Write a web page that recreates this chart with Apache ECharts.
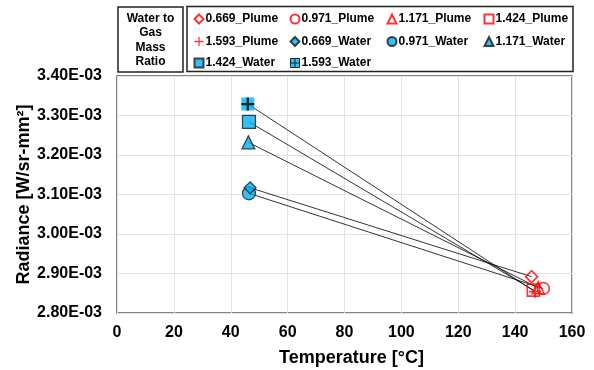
<!DOCTYPE html>
<html><head><meta charset="utf-8">
<script src="https://cdn.jsdelivr.net/npm/echarts@6/dist/echarts.min.js"></script>
<style>html,body{margin:0;padding:0;background:#fff}#c{width:594px;height:370px}</style>
</head><body><div id="c"></div>
<script>
const ratios = ['0.669', '0.971', '1.171', '1.424', '1.593'];
const waterTemp = [46.8, 46.4, 46.2, 46.4, 46.0];
const waterRad = [3.117e-3, 3.103e-3, 3.232e-3, 3.284e-3, 3.329e-3];
const plumeTemp = [145.8, 149.9, 148.1, 146.4, 147.0];
const plumeRad = [2.892e-3, 2.862e-3, 2.864e-3, 2.858e-3, 2.854e-3];
const xTicks = { min: 0, max: 160, interval: 20 };
const yTicks = { min: 0.0028, max: 0.0034, interval: 0.0001 };

const BLUE = '#00B0F0', RED = '#FF0000';
const crossThin = 'path://M4.3,0H5.7V4.3H10V5.7H5.7V10H4.3V5.7H0V4.3H4.3Z';
const crossThick = 'path://M4.1,0H5.9V4.1H10V5.9H5.9V10H4.1V5.9H0V4.1H4.1Z';
const plumeSym = ['diamond', 'circle', 'triangle', 'rect', crossThin];
const waterSym = ['diamond', 'circle', 'triangle', 'rect', 'rect'];

const series = [];
ratios.forEach((r, i) => {
  series.push({
    type: 'line', name: '_line' + i, silent: true, showSymbol: false, symbol: 'none', z: 1,
    lineStyle: { color: '#000', width: 0.8 },
    data: [[waterTemp[i], waterRad[i]], [plumeTemp[i], plumeRad[i]]]
  });
});
ratios.forEach((r, i) => {
  const isCross = i === 4;
  series.push({
    type: 'scatter', name: r + '_Plume', z: 3,
    symbol: plumeSym[i], symbolSize: 12,
    itemStyle: isCross ? { color: RED, borderWidth: 0 } : { color: 'none', borderColor: RED, borderWidth: 1.6 },
    data: [[plumeTemp[i], plumeRad[i]]]
  });
});
ratios.forEach((r, i) => {
  series.push({
    type: 'scatter', name: r + '_Water', z: i === 0 ? 5 : 4,
    symbol: waterSym[i], symbolSize: i === 0 ? 12 : 13,
    itemStyle: i === 4 ? { color: BLUE, borderWidth: 0 } : { color: BLUE, borderColor: '#1a1a1a', borderWidth: 1.2 },
    data: [[waterTemp[i], waterRad[i]]]
  });
});
series.push({
  type: 'scatter', name: '_cross', z: 6, silent: true,
  symbol: crossThick, symbolSize: 13,
  itemStyle: { color: '#000' },
  data: [[waterTemp[4], waterRad[4]]]
});

const legendItem = (name) => {
  if (name === '1.593_Water') {
    return { name, icon: 'path://M0,0H10V10H0Z M5,0V10 M0,5H10', itemStyle: { color: BLUE, borderColor: '#000', borderWidth: 1 } };
  }
  return { name };
};
const cols = [
  ['0.669_Plume', '1.593_Plume', '1.424_Water'],
  ['0.971_Plume', '0.669_Water', '1.593_Water'],
  ['1.171_Plume', '0.971_Water'],
  ['1.424_Plume', '1.171_Water']
];
const colLeft = [192, 288, 385, 482];
const legends = cols.map((c, k) => ({
  orient: 'vertical', left: colLeft[k], top: 12, padding: 0,
  itemWidth: 9, itemHeight: 9, itemGap: 9.5,
  textStyle: { fontFamily: 'Liberation Sans, Arial', fontWeight: 'bold', fontSize: 12, color: '#000', padding: [0, 0, 0, -3] },
  data: c.map(legendItem)
}));

const chart = echarts.init(document.getElementById('c'));
chart.setOption({
  animation: false,
  backgroundColor: '#fff',
  textStyle: { fontFamily: 'Liberation Sans, Arial' },
  grid: { left: 117, right: 22, top: 76, bottom: 57, show: true, borderColor: '#595959', borderWidth: 1.5, backgroundColor: 'transparent', containLabel: false, outerBoundsMode: 'none' },
  legend: legends,
  xAxis: {
    type: 'value', min: xTicks.min, max: xTicks.max, interval: xTicks.interval,
    name: 'Temperature [°C]', nameLocation: 'middle', nameGap: 36, nameMoveOverlap: false,
    nameTextStyle: { fontWeight: 'bold', fontSize: 18, color: '#000', padding: [0, 0, 0, 14] },
    axisLine: { show: false }, axisTick: { show: false },
    axisLabel: { fontWeight: 'bold', fontSize: 16, color: '#000', margin: 12 },
    splitLine: { show: true, lineStyle: { color: '#e3e3e3', width: 1 } }
  },
  yAxis: {
    type: 'value', min: yTicks.min, max: yTicks.max, interval: yTicks.interval,
    name: 'Radiance [W/sr-mm²]', nameLocation: 'middle', nameGap: 84, nameMoveOverlap: false,
    nameTextStyle: { fontWeight: 'bold', fontSize: 18, color: '#000' },
    axisLine: { show: false }, axisTick: { show: false },
    axisLabel: { fontWeight: 'bold', fontSize: 16, color: '#000', margin: 15,
      formatter: v => (v * 1000).toFixed(2) + 'E-03' },
    splitLine: { show: true, lineStyle: { color: '#e3e3e3', width: 1 } }
  },
  graphic: [
    { type: 'rect', shape: { x: 118, y: 7, width: 65, height: 65 }, style: { fill: 'none', stroke: '#222', lineWidth: 1.5 } },
    { type: 'rect', shape: { x: 187, y: 6.5, width: 386, height: 65 }, style: { fill: 'none', stroke: '#222', lineWidth: 1.5 } },
    { type: 'text', left: 150.5 - 30, top: 11, style: { text: 'Water to\nGas\nMass\nRatio', width: 60, align: 'center', textAlign: 'center', x: 30, lineHeight: 14.5, font: 'bold 12px "Liberation Sans", Arial', fill: '#000' } }
  ],
  series
});
</script></body></html>
